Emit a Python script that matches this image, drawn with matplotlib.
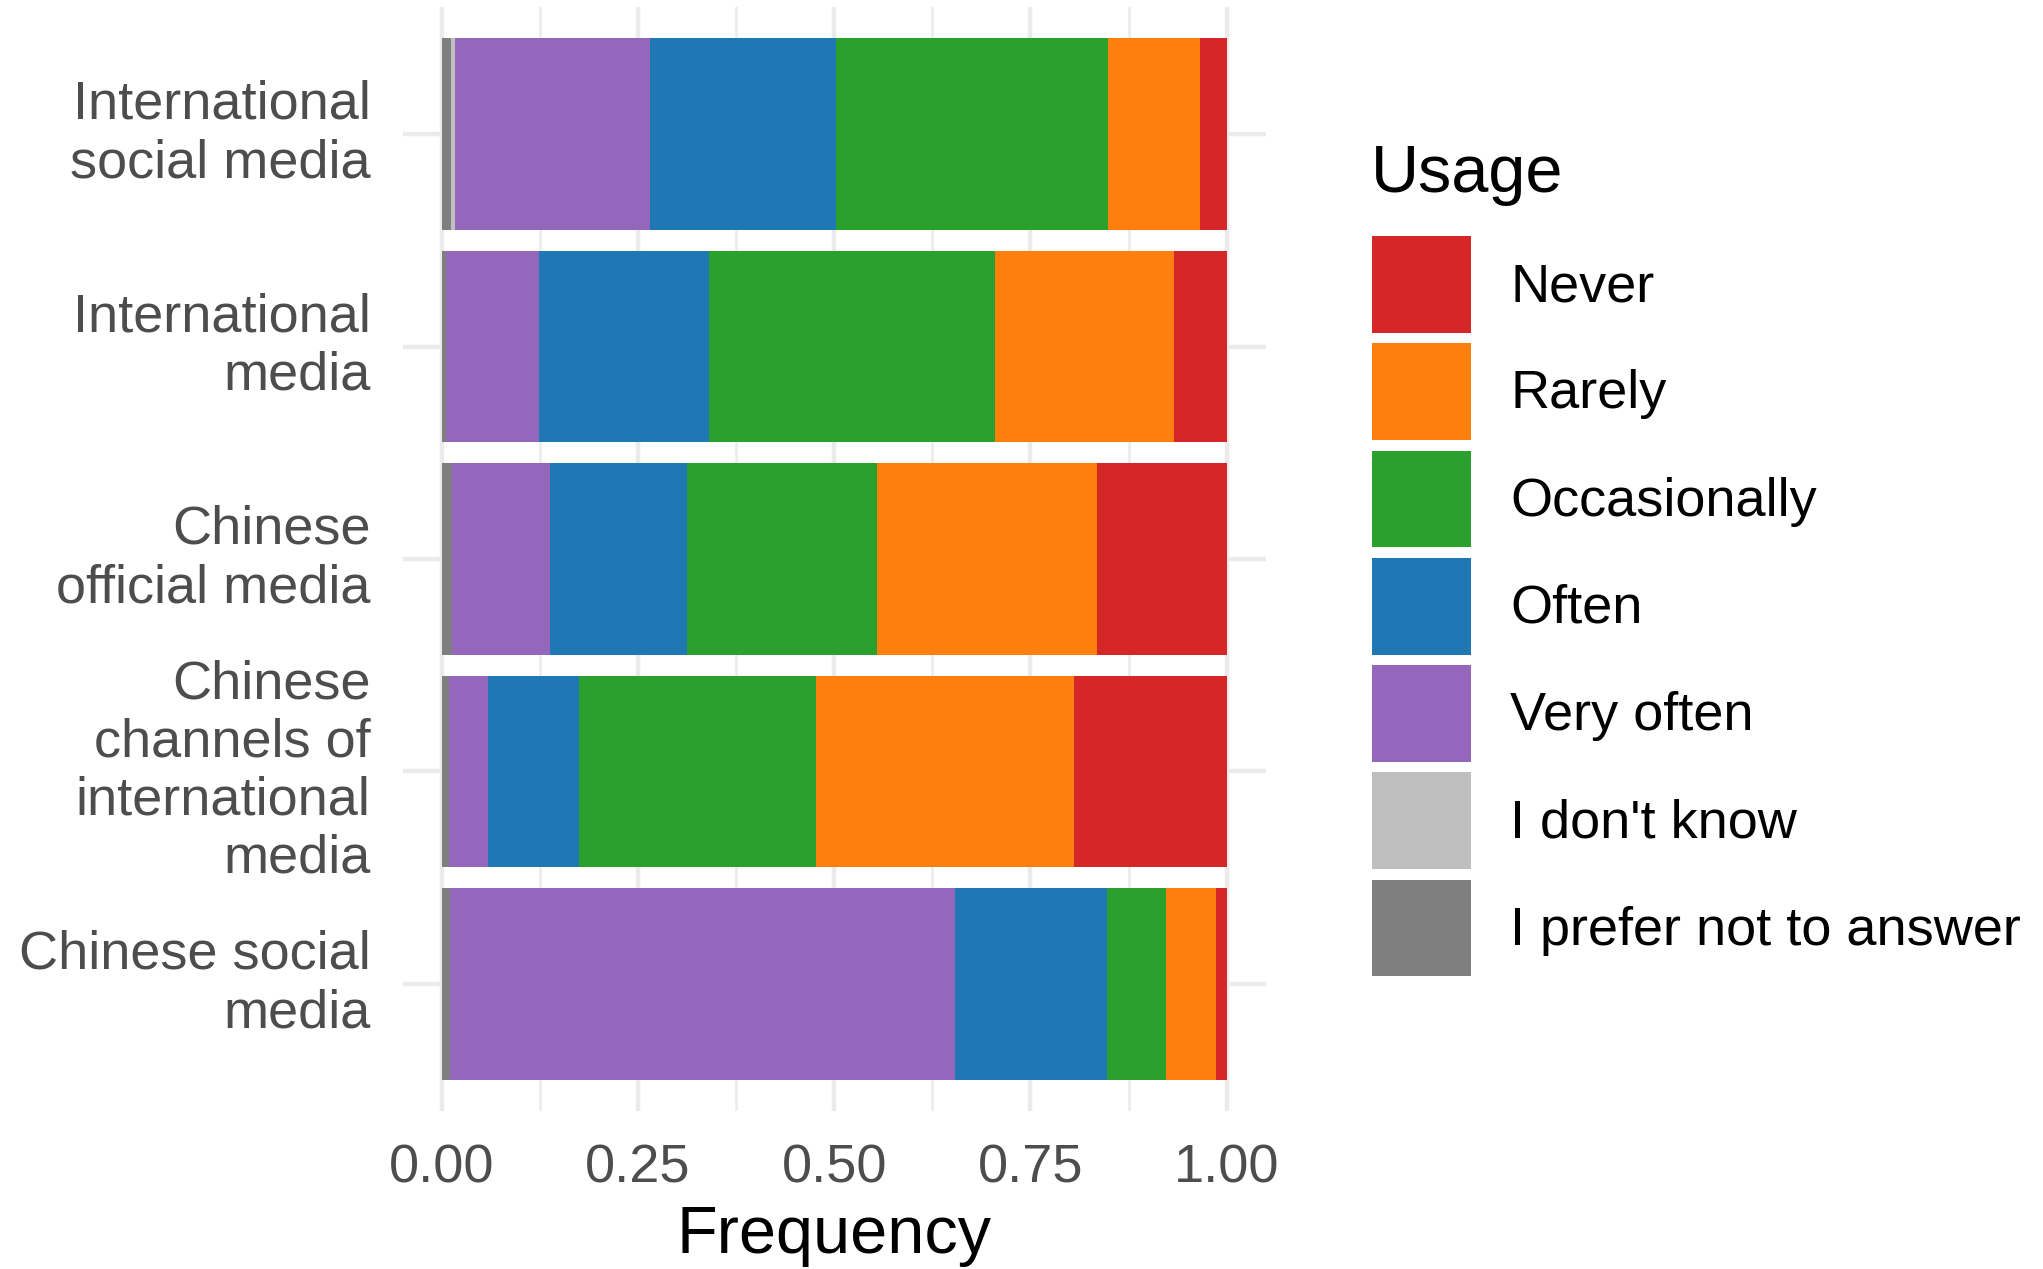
import numpy as np
import matplotlib
matplotlib.use("Agg")
import matplotlib.pyplot as plt
from matplotlib.patches import Patch

plt.rcParams['font.family'] = ['Liberation Sans', 'DejaVu Sans']

# media sources, top to bottom
sources = ["International\nsocial media", "International\nmedia",
           "Chinese\nofficial media",
           "Chinese\nchannels of\ninternational\nmedia",
           "Chinese social\nmedia"]

# shares per usage level (stacked left to right)
prefer_not = [0.012, 0.006, 0.013, 0.009, 0.011]
dont_know = [0.005, 0.000, 0.000, 0.000, 0.000]
very_often = [0.248, 0.118, 0.125, 0.050, 0.643]
often = [0.237, 0.217, 0.175, 0.116, 0.193]
occasionally = [0.347, 0.364, 0.241, 0.302, 0.076]
rarely = [0.117, 0.228, 0.281, 0.328, 0.063]
never = [0.034, 0.067, 0.165, 0.195, 0.014]

levels = ["I prefer not to answer", "I don't know", "Very often", "Often",
          "Occasionally", "Rarely", "Never"]
series = [prefer_not, dont_know, very_often, often, occasionally, rarely, never]
colors = ["#7F7F7F", "#BFBFBF", "#9467BD", "#1F77B4", "#2CA02C", "#FF7F0E", "#D62728"]

W, H = 2043, 1269
fig = plt.figure(figsize=(W / 100, H / 100), dpi=100)
ax = fig.add_axes([402.5 / W, 1 - 1111.4 / H, 863.5 / W, 1104.8 / H])

y = np.arange(len(sources))
left = np.zeros(len(sources))
for name, vals, c in zip(levels, series, colors):
    vals = np.array(vals)
    ax.barh(y, vals, left=left, height=0.9, color=c, linewidth=0, zorder=3)
    left += vals

ax.set_xlim(-0.05, 1.05)
ax.set_ylim(len(sources) - 0.4, -0.6)
ax.set_xticks([0, 0.25, 0.5, 0.75, 1.0])
ax.set_xticklabels(["0.00", "0.25", "0.50", "0.75", "1.00"])
ax.set_xticks([0.125, 0.375, 0.625, 0.875], minor=True)
ax.set_yticks(y)
ax.set_yticklabels(sources, linespacing=1.21, ha="right", va="center")

ax.grid(True, which="major", color="#EBEBEB", linewidth=3.2, zorder=0)
ax.grid(True, which="minor", axis="x", color="#EBEBEB", linewidth=1.8, zorder=0)
for s in ax.spines.values():
    s.set_visible(False)
ax.tick_params(which="both", length=0, labelsize=39, labelcolor="#4D4D4D", pad=23)

fig.text(834 / W, 1 - 1253 / H, "Frequency", fontsize=48, ha="center", va="baseline")

# legend (Never on top)
handles = [Patch(facecolor=c, edgecolor="white", linewidth=0) for c in colors[::-1]]
fig.legend(handles, levels[::-1], loc="upper left",
           bbox_to_anchor=(1372 / W, 1 - 236 / H), borderaxespad=0, borderpad=0,
           frameon=False, fontsize=39, handlelength=1.83, handleheight=2.377,
           labelspacing=0.19, handletextpad=0.72)
fig.text(1371 / W, 1 - 191.5 / H, "Usage", fontsize=48, ha="left", va="baseline")

fig.savefig("out.png", dpi=100)
